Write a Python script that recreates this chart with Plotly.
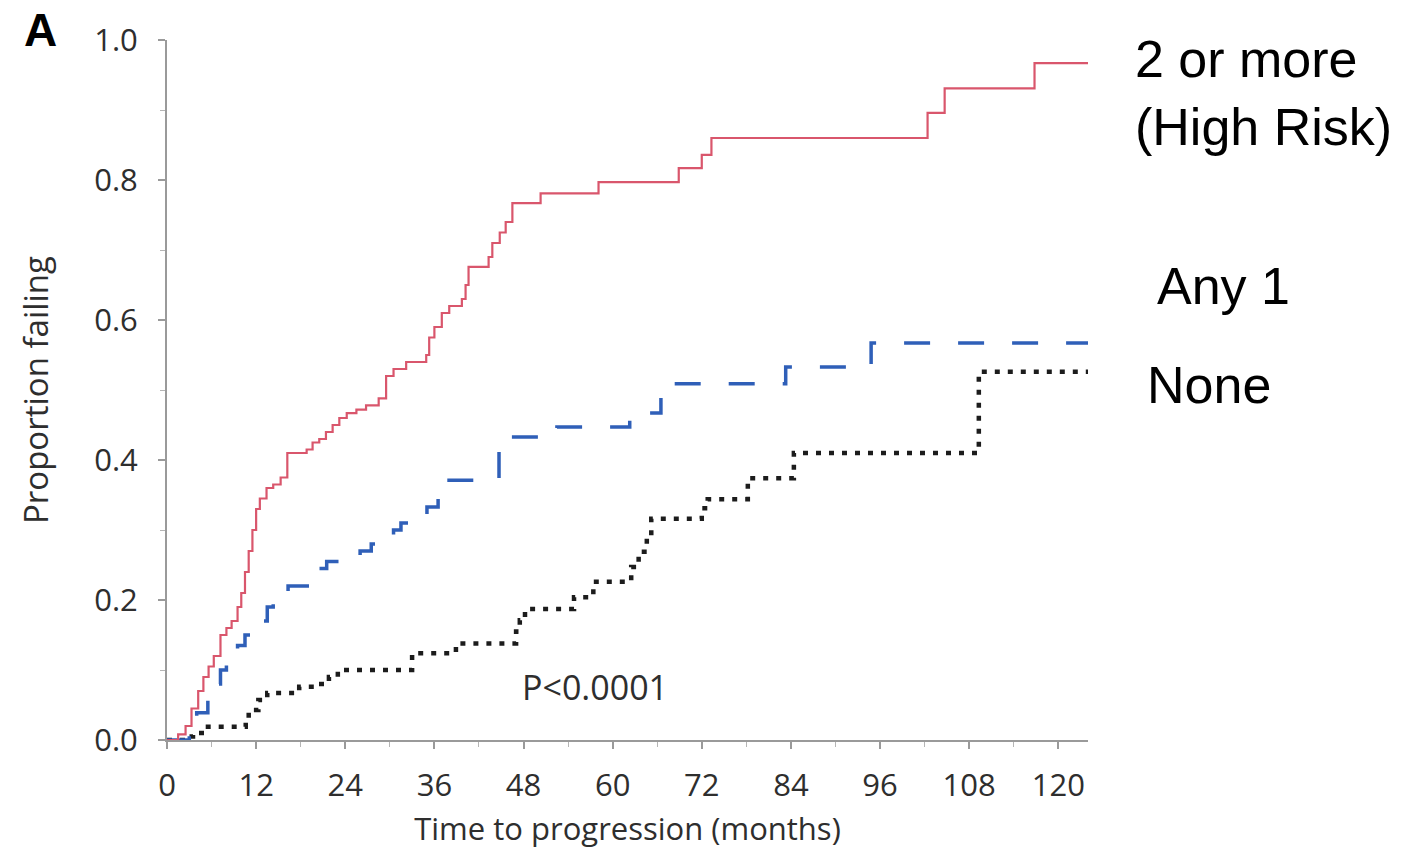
import plotly.graph_objects as go

# ---------------- data ----------------
t_high = [0, 1.5, 2.5, 3.3, 4.2, 4.9, 5.6, 6.3, 7.2, 8.0, 8.7, 9.5, 10.0, 10.5, 11.0,
          11.5, 12.0, 12.5, 13.4, 14.3, 15.3, 16.2, 18.8, 19.6, 20.5, 21.4, 22.3,
          23.2, 24.2, 25.5, 26.8, 28.5, 29.5, 30.5, 32.2, 34.9, 35.3, 36.0, 37.0,
          38.0, 39.7, 40.2, 40.6, 43.3, 43.8, 44.8, 45.6, 46.5, 50.3, 58.1, 68.9,
          72.0, 73.3, 102.4, 104.7, 116.8, 124.0]
p_high = [0, 0.008, 0.02, 0.045, 0.07, 0.09, 0.105, 0.12, 0.15, 0.16, 0.17, 0.19,
          0.21, 0.24, 0.27, 0.30, 0.33, 0.345, 0.36, 0.365, 0.375, 0.41, 0.415,
          0.425, 0.43, 0.44, 0.45, 0.46, 0.467, 0.472, 0.478, 0.488, 0.52, 0.53,
          0.54, 0.55, 0.575, 0.59, 0.61, 0.62, 0.63, 0.65, 0.676, 0.69, 0.71, 0.725,
          0.74, 0.767, 0.781, 0.797, 0.817, 0.836, 0.86, 0.896, 0.931, 0.967, 0.967]

t_any1 = [0, 3.0, 4.0, 5.5, 6.3, 7.2, 8.0, 9.5, 10.5, 12.0, 13.5, 14.3, 16.3, 19.5,
          21.5, 26.0, 27.5, 30.5, 31.5, 35.0, 36.5, 37.5, 44.7, 52.5, 62.3, 66.5,
          83.3, 94.8, 124.0]
p_any1 = [0, 0.02, 0.039, 0.06, 0.08, 0.10, 0.115, 0.135, 0.15, 0.17, 0.19, 0.205,
          0.22, 0.245, 0.255, 0.27, 0.28, 0.30, 0.31, 0.333, 0.35, 0.371, 0.433,
          0.447, 0.467, 0.509, 0.533, 0.567, 0.567]

t_none = [0, 2.5, 3.5, 5.2, 10.6, 11.0, 12.3, 13.5, 17.8, 20.0, 21.8, 23.0, 33.0,
          38.9, 47.0, 47.5, 48.2, 54.8, 57.4, 62.5, 63.5, 64.6, 65.2, 72.0, 72.8,
          78.2, 84.4, 109.3, 124.0]
p_none = [0, 0.005, 0.01, 0.019, 0.03, 0.043, 0.057, 0.067, 0.076, 0.08, 0.09, 0.10,
          0.124, 0.138, 0.155, 0.171, 0.187, 0.204, 0.226, 0.247, 0.269, 0.29,
          0.316, 0.331, 0.344, 0.374, 0.41, 0.526, 0.526]

x_ticks = [0, 12, 24, 36, 48, 60, 72, 84, 96, 108, 120]
y_ticks = [0.0, 0.2, 0.4, 0.6, 0.8, 1.0]
y_ticklabels = ["0.0", "0.2", "0.4", "0.6", "0.8", "1.0"]

group_labels = ["2 or more<br>(High Risk)", "Any 1", "None"]
x_title = "Time to progression (months)"
y_title = "Proportion failing"
p_text = "P<0.0001"
panel = "A"

# ---------------- figure ----------------
W, H = 1407, 852
ML, MR, MT, MB = 167, 319, 40, 112
TXT = "#2e2e2e"
TICK_FONT = dict(family="Open Sans", size=31, color=TXT)

fig = go.Figure()
fig.add_trace(go.Scatter(x=t_none, y=p_none, mode="lines", line_shape="hv",
                         line=dict(color="#1c1c1c", width=4.5, dash="5px,8px"),
                         name="None", hoverinfo="skip"))
fig.add_trace(go.Scatter(x=t_any1, y=p_any1, mode="lines", line_shape="hv",
                         line=dict(color="#2f5fb8", width=3.5, dash="26px,28px"),
                         name="Any 1", hoverinfo="skip"))
fig.add_trace(go.Scatter(x=t_high, y=p_high, mode="lines", line_shape="hv",
                         line=dict(color="#d9566c", width=2.2),
                         name="2 or more (High Risk)", hoverinfo="skip"))

axis_common = dict(showgrid=False, zeroline=False, showline=True,
                   linecolor="#9a9a9a", linewidth=2, ticks="outside",
                   tickcolor="#9a9a9a", tickwidth=1.5, ticklen=7,
                   tickfont=TICK_FONT)

fig.update_xaxes(range=[0, 124], tickvals=x_ticks, ticklabelstandoff=10,
                 minor=dict(ticks="outside", dtick=6, tick0=0, ticklen=5,
                            tickcolor="#b5b5b5", tickwidth=1.2),
                 title=dict(text=x_title, font=dict(family="Open Sans", size=31, color=TXT),
                            standoff=14),
                 **axis_common)
fig.update_yaxes(range=[0, 1], tickvals=y_ticks, ticktext=y_ticklabels,
                 ticklabelstandoff=14,
                 minor=dict(ticks="outside", dtick=0.1, tick0=0, ticklen=5,
                            tickcolor="#b5b5b5", tickwidth=1.2),
                 title=dict(text=y_title, font=dict(family="Open Sans", size=33, color=TXT),
                            standoff=36),
                 **axis_common)

pw = W - ML - MR
ph = H - MT - MB


def px(xp):
    return (xp - ML) / pw


def py(yp):
    return (H - MB - yp) / ph


label_font = dict(family="Liberation Sans, Arial", size=52, color="black")
label_pos = [(1133, 93), (1155, 286), (1145, 385)]
for txt, (xp, yp) in zip(group_labels, label_pos):
    fig.add_annotation(text=txt, xref="paper", yref="paper", x=px(xp), y=py(yp),
                       xanchor="left", yanchor="middle", showarrow=False,
                       align="left", font=label_font)

fig.add_annotation(text=p_text, xref="paper", yref="paper", x=px(520), y=py(687),
                   xanchor="left", yanchor="middle", showarrow=False,
                   font=dict(family="Open Sans", size=34, color=TXT))
fig.add_annotation(text="<b>" + panel + "</b>", xref="paper", yref="paper",
                   x=px(40), y=py(30), xanchor="center", yanchor="middle",
                   showarrow=False,
                   font=dict(family="Liberation Sans, Arial", size=46, color="black"))

fig.update_layout(width=W, height=H, margin=dict(l=ML, r=MR, t=MT, b=MB),
                  plot_bgcolor="white", paper_bgcolor="white", showlegend=False)

fig.write_html("out.html")
